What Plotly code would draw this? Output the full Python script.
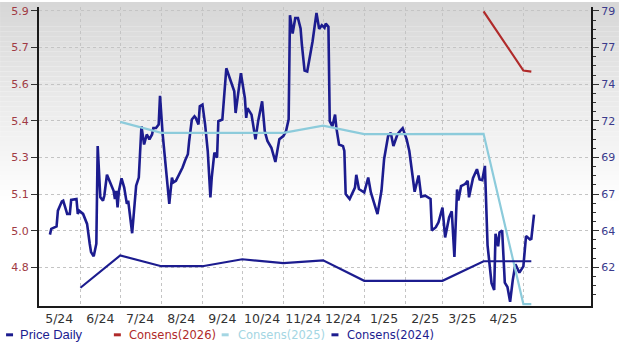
import plotly.graph_objects as go

# ---------------- data ----------------
price_dates = [
    "2024-05-09", "2024-05-10", "2024-05-14", "2024-05-15", "2024-05-18", "2024-05-19", "2024-05-22", "2024-05-24",
    "2024-05-25", "2024-05-29", "2024-05-30", "2024-05-31", "2024-06-03", "2024-06-06", "2024-06-08", "2024-06-09",
    "2024-06-11", "2024-06-13", "2024-06-14", "2024-06-16", "2024-06-18", "2024-06-19", "2024-06-21", "2024-06-23",
    "2024-06-26", "2024-06-27", "2024-06-28", "2024-06-29", "2024-06-30", "2024-07-02", "2024-07-04", "2024-07-06",
    "2024-07-07", "2024-07-10", "2024-07-13", "2024-07-15", "2024-07-17", "2024-07-19", "2024-07-21", "2024-07-23",
    "2024-07-25", "2024-07-26", "2024-07-28", "2024-07-30", "2024-07-31", "2024-08-02", "2024-08-05", "2024-08-06",
    "2024-08-07", "2024-08-09", "2024-08-10", "2024-08-12", "2024-08-14", "2024-08-17", "2024-08-19", "2024-08-21",
    "2024-08-22", "2024-08-24", "2024-08-26", "2024-08-27", "2024-08-29", "2024-08-30", "2024-09-01", "2024-09-03",
    "2024-09-05", "2024-09-07", "2024-09-08", "2024-09-10", "2024-09-12", "2024-09-13", "2024-09-16", "2024-09-19",
    "2024-09-22", "2024-09-25", "2024-09-26", "2024-09-28", "2024-09-30", "2024-10-03", "2024-10-04", "2024-10-05",
    "2024-10-08", "2024-10-11", "2024-10-13", "2024-10-16", "2024-10-18", "2024-10-20", "2024-10-23", "2024-10-26",
    "2024-10-29", "2024-11-01", "2024-11-03", "2024-11-05", "2024-11-06", "2024-11-08", "2024-11-10", "2024-11-12",
    "2024-11-14", "2024-11-15", "2024-11-17", "2024-11-19", "2024-11-21", "2024-11-23", "2024-11-26", "2024-11-28",
    "2024-11-30", "2024-12-02", "2024-12-03", "2024-12-05", "2024-12-06", "2024-12-08", "2024-12-10", "2024-12-11",
    "2024-12-13", "2024-12-16", "2024-12-17", "2024-12-18", "2024-12-21", "2024-12-25", "2024-12-26", "2024-12-28",
    "2025-01-01", "2025-01-04", "2025-01-06", "2025-01-09", "2025-01-11", "2025-01-14", "2025-01-16", "2025-01-19",
    "2025-01-21", "2025-01-23", "2025-01-26", "2025-01-28", "2025-01-30", "2025-02-02", "2025-02-04", "2025-02-08",
    "2025-02-11", "2025-02-13", "2025-02-16", "2025-02-20", "2025-02-21", "2025-02-24", "2025-02-26", "2025-03-01",
    "2025-03-03", "2025-03-06", "2025-03-08", "2025-03-10", "2025-03-12", "2025-03-13", "2025-03-15", "2025-03-18",
    "2025-03-20", "2025-03-21", "2025-03-24", "2025-03-27", "2025-03-29", "2025-03-31", "2025-04-02", "2025-04-04",
    "2025-04-06", "2025-04-07", "2025-04-09", "2025-04-10", "2025-04-12", "2025-04-13", "2025-04-15", "2025-04-17",
    "2025-04-19", "2025-04-21", "2025-04-23", "2025-04-25", "2025-04-28", "2025-05-01", "2025-05-03", "2025-05-06",
    "2025-05-07", "2025-05-09",
]
price_values = [
    4.940, 4.965, 4.975, 5.043, 5.083, 5.086, 5.029, 5.029,
    5.089, 5.093, 5.029, 5.043, 5.029, 4.986, 4.901, 4.865,
    4.847, 4.901, 5.320, 5.100, 5.086, 5.107, 5.197, 5.171,
    5.128, 5.093, 5.128, 5.057, 5.128, 5.182, 5.142, 5.072,
    5.086, 4.946, 5.150, 5.185, 5.405, 5.327, 5.370, 5.349,
    5.370, 5.398, 5.398, 5.413, 5.536, 5.371, 5.200, 5.128,
    5.072, 5.185, 5.164, 5.171, 5.192, 5.228, 5.259, 5.285,
    5.342, 5.434, 5.448, 5.441, 5.413, 5.491, 5.498, 5.413,
    5.299, 5.100, 5.185, 5.292, 5.270, 5.427, 5.434, 5.654,
    5.605, 5.555, 5.462, 5.541, 5.633, 5.526, 5.441, 5.483,
    5.455, 5.349, 5.427, 5.512, 5.384, 5.342, 5.313, 5.252,
    5.350, 5.363, 5.384, 5.435, 5.882, 5.803, 5.870, 5.870,
    5.825, 5.754, 5.644, 5.640, 5.697, 5.768, 5.892, 5.823,
    5.839, 5.828, 5.846, 5.832, 5.427, 5.405, 5.455, 5.398,
    5.327, 5.320, 5.299, 5.114, 5.093, 5.142, 5.197, 5.136,
    5.121, 5.185, 5.121, 5.064, 5.028, 5.128, 5.265, 5.363,
    5.377, 5.320, 5.370, 5.384, 5.397, 5.349, 5.299, 5.124,
    5.194, 5.103, 5.107, 5.093, 4.958, 4.972, 4.993, 5.056,
    4.928, 5.014, 5.040, 4.844, 5.134, 5.086, 5.148, 5.157,
    5.171, 5.100, 5.182, 5.221, 5.177, 5.174, 5.235, 4.894,
    4.766, 4.732, 4.702, 4.944, 4.890, 4.949, 4.958, 4.734,
    4.715, 4.652, 4.745, 4.813, 4.777, 4.804, 4.934, 4.919,
    4.922, 5.026,
]

cons2024_dates = ["2024-06-01", "2024-07-01", "2024-08-01", "2024-09-01", "2024-10-01", "2024-11-01",
                  "2024-12-01", "2025-01-01", "2025-03-01", "2025-04-01", "2025-05-07"]
cons2024_values = [60.64, 62.79, 62.07, 62.07, 62.53, 62.28, 62.46, 61.10, 61.10, 62.40, 62.40]

cons2025_dates = ["2024-07-01", "2024-08-01", "2024-09-01", "2024-10-01", "2024-11-01", "2024-12-01",
                  "2025-01-01", "2025-02-01", "2025-03-01", "2025-04-01", "2025-05-01", "2025-05-07"]
cons2025_values = [71.64, 70.92, 70.92, 70.92, 70.92, 71.39, 70.83, 70.83, 70.83, 70.85, 59.56, 59.56]

cons2026_dates = ["2025-04-01", "2025-05-01", "2025-05-07"]
cons2026_values = [78.98, 75.05, 74.98]

x_tick_dates = ["2024-05-16", "2024-06-16", "2024-07-16", "2024-08-16", "2024-09-16", "2024-10-16",
                "2024-11-16", "2024-12-16", "2025-01-16", "2025-02-16", "2025-03-16", "2025-04-16"]
x_tick_labels = ["5/24", "6/24", "7/24", "8/24", "9/24", "10/24", "11/24", "12/24", "1/25", "2/25", "3/25", "4/25"]
month_grid_dates = ["2024-06-01", "2024-07-01", "2024-08-01", "2024-09-01", "2024-10-01", "2024-11-01",
                    "2024-12-01", "2025-01-01", "2025-02-01", "2025-03-01", "2025-04-01", "2025-05-01"]

price_tick_labels = ["4.8", "5.0", "5.1", "5.3", "5.4", "5.6", "5.7", "5.9"]
cons_tick_labels = ["62", "64", "67", "69", "72", "74", "77", "79"]

# ---------------- styling ----------------
W, H = 620, 343
ML, MR, MT, MB = 39, 28, 5, 37
PW, PH = W - ML - MR, H - MT - MB

NAVY = "#1c1c8f"
RED = "#b02a2a"
LIGHT = "#8ccbdb"

p_lo, p_hi = 4.8, 5.9
p_step = (p_hi - p_lo) / 7
price_ticks = [p_lo + i * p_step for i in range(8)]
c_lo, c_hi = 62.0, 79.0
c_step = (c_hi - c_lo) / 7
cons_ticks = [c_lo + i * c_step for i in range(8)]
cons_minor = [c_lo + j * c_step / 4 for j in range(-4, 30) if j % 4 != 0]

# y ranges so that ticks land at the same pixel rows
px_per_step = 37.0
p_range = [p_lo - p_step * (39 / px_per_step) * (px_per_step / 36.86), p_hi + p_step * 4 / 36.86]
c_range = [c_lo - c_step * 39 / 36.86, c_hi + c_step * 4 / 36.86]


def px2x(px):
    return (px - ML) / PW


def py2y(py):
    return (H - MB - py) / PH


fig = go.Figure()

fig.add_trace(go.Scatter(x=price_dates, y=price_values, mode="lines", name="Price Daily",
                         line=dict(color=NAVY, width=2.6), showlegend=False))
fig.add_trace(go.Scatter(x=cons2026_dates, y=cons2026_values, mode="lines", name="Consens(2026)",
                         yaxis="y2", line=dict(color=RED, width=2.2), showlegend=False))
fig.add_trace(go.Scatter(x=cons2025_dates, y=cons2025_values, mode="lines", name="Consens(2025)",
                         yaxis="y2", line=dict(color=LIGHT, width=2.2), showlegend=False))
fig.add_trace(go.Scatter(x=cons2024_dates, y=cons2024_values, mode="lines", name="Consens(2024)",
                         yaxis="y2", line=dict(color=NAVY, width=2.2), showlegend=False))

# background gradient (grey at top fading to white)
shapes = []
bands = 40
top_px, bot_px = 0, 200
for i in range(bands):
    y0 = top_px + (bot_px - top_px) * i / bands
    y1 = top_px + (bot_px - top_px) * (i + 1) / bands
    t = (i + 0.5) / bands
    c = int(round(214 + 41 * t))
    shapes.append(dict(type="rect", xref="paper", yref="paper", layer="below",
                       x0=px2x(0), x1=px2x(W), y0=py2y(y1), y1=py2y(y0),
                       fillcolor=f"rgb({c},{c},{c})", line=dict(width=0)))

# legend (custom, below chart)
legend_items = [
    ("Price Daily", NAVY, 6, 18, "Liberation Sans", 13),
    ("Consens(2026)", RED, 114, 127, "DejaVu Sans", 11.5),
    ("Consens(2025)", "#a4d6e3", 222, 236, "DejaVu Sans", 11.5),
    ("Consens(2024)", NAVY, 332, 346, "DejaVu Sans", 11.5),
]
annotations = []
ly = 335
for label, col, dx, tx, fam, fs in legend_items:
    shapes.append(dict(type="line", xref="paper", yref="paper", x0=px2x(dx), x1=px2x(dx + 7),
                       y0=py2y(ly), y1=py2y(ly), line=dict(color=col, width=3)))
    annotations.append(dict(text=label, xref="paper", yref="paper", x=px2x(tx), y=py2y(ly),
                            xanchor="left", yanchor="middle", showarrow=False,
                            font=dict(family=fam, size=fs, color=col)))

fig.update_layout(
    width=W, height=H,
    margin=dict(l=ML, r=MR, t=MT, b=MB),
    paper_bgcolor="white",
    plot_bgcolor="rgba(0,0,0,0)",
    shapes=shapes,
    annotations=annotations,
    showlegend=False,
    xaxis=dict(
        type="date",
        range=["2024-04-30 18:00", "2025-06-21"],
        tickmode="array", tickvals=x_tick_dates, ticktext=x_tick_labels,
        showgrid=False, ticks="",
        tickfont=dict(family="DejaVu Sans", size=12.5, color="#333333"),
        showline=True, linecolor="#1a1a1a", linewidth=2,
        minor=dict(tickmode="array", tickvals=month_grid_dates, showgrid=True,
                   gridcolor="#c4c4c4", griddash="dot", gridwidth=1, ticks=""),
        zeroline=False,
    ),
    yaxis=dict(
        range=p_range,
        tickmode="array", tickvals=price_ticks, ticktext=price_tick_labels,
        showgrid=True, gridcolor="#c4c4c4", griddash="dot", gridwidth=1,
        ticks="outside", ticklen=6, tickcolor="#333333", tickwidth=1,
        tickfont=dict(family="DejaVu Sans", size=11, color="#a03a44"),
        showline=True, linecolor="#1a1a1a", linewidth=2,
        zeroline=False,
    ),
    yaxis2=dict(
        range=c_range, overlaying="y", side="right",
        tickmode="array", tickvals=cons_ticks, ticktext=cons_tick_labels,
        showgrid=False,
        ticks="outside", ticklen=6, tickcolor="#333333", tickwidth=1,
        tickfont=dict(family="DejaVu Sans", size=11, color="#3a3a8c"),
        minor=dict(tickmode="array", tickvals=cons_minor, ticks="outside", ticklen=3,
                   tickcolor="#333333", showgrid=False),
        showline=True, linecolor="#1a1a1a", linewidth=2,
        zeroline=False,
    ),
)

fig.write_html("out.html")
